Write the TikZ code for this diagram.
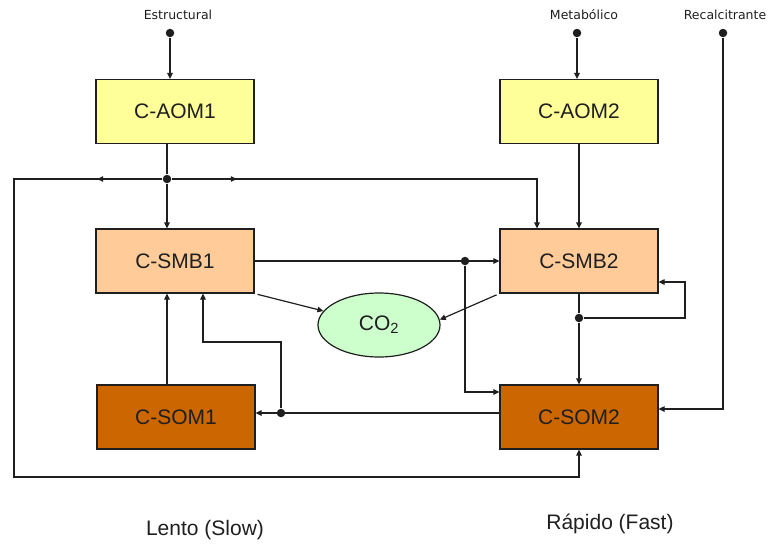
\documentclass[tikz,border=0pt]{standalone}
\usepackage{fontspec}
\setmainfont{Liberation Sans}
\newfontfamily\lblfont{DejaVu Sans}
\usetikzlibrary{arrows.meta,positioning,shapes.geometric,decorations.markings}
\definecolor{aomfill}{HTML}{FFFF99}
\definecolor{smbfill}{HTML}{FFCC99}
\definecolor{somfill}{HTML}{CC6600}
\definecolor{gasfill}{HTML}{CCFFCC}

\begin{document}
\begin{tikzpicture}[x=1pt,y=-1pt,color=black!88,line width=1.2pt,
  box/.style={draw,minimum width=158pt,minimum height=64pt,inner sep=0pt,font=\fontsize{21}{25}\selectfont},
  aom/.style={box,fill=aomfill},
  smb/.style={box,fill=smbfill},
  som/.style={box,fill=somfill},
  gas/.style={ellipse,draw,fill=gasfill,minimum width=122pt,minimum height=64pt,inner sep=0pt,font=\fontsize{21}{25}\selectfont},
  big/.style={font=\fontsize{21}{25}\selectfont},
  lbl/.style={font=\lblfont\fontsize{12.5}{15}\selectfont},
  dot/.style={circle,fill,inner sep=0pt,minimum size=8.5pt},
  midtip/.style={postaction={decorate},decoration={markings,mark=at position #1 with {\arrow{Triangle[length=6pt,width=5.5pt]}}}},
  >={Triangle[length=6pt,width=5.5pt]}]
\useasboundingbox (0,0) rectangle (771,544);
\node[aom] (aom1) at (175,111.5) {C-AOM1};
\node[aom] (aom2) at (579,111.5) {C-AOM2};
\node[smb] (smb1) at (175,261) {C-SMB1};
\node[smb] (smb2) at (579,261) {C-SMB2};
\node[som] (som1) at (176,417) {C-SOM1};
\node[som] (som2) at (579,417) {C-SOM2};
\node[gas] (co2) at (379,325) {CO\textsubscript{2}};
\node[lbl] (estr) at (178,15) {Estructural};
\node[lbl] (meta) at (584,15) {Metabólico};
\node[lbl] (recal) at (725,15) {Recalcitrante};
\node[big] (slow) at (205,530) {Lento (Slow)};
\node[big] (fast) at (610,524) {Rápido (Fast)};
\node[dot] (d1) at (170,33) {};
\node[dot] (d2) at (577,33) {};
\node[dot] (d3) at (723,33) {};
\node[dot] (j1) at (167,179) {};
\node[dot] (j2) at (465,261) {};
\node[dot] (j3) at (579,318) {};
\node[dot] (j4) at (281,413) {};
\coordinate (lt) at (14,179);
\coordinate (lb) at (14,477);
\coordinate (rt) at (537,179);
\coordinate (rr) at (685,318);
\coordinate (kk) at (203,342);
\draw[->] (d1) -- (d1 |- aom1.north);
\draw[->] (d2) -- (d2 |- aom2.north);
\draw[->] (d3) |- ([yshift=8pt]som2.east);
\draw (aom1.south -| j1) -- (j1);
\draw[->] (j1) -- (j1 |- smb1.north);
\draw[->,midtip=65pt] (j1) -- (lt) -- (lb) -| (som2.south);
\draw[->,midtip=65pt] (j1) -- (rt) -- (rt |- smb2.north);
\draw[->] (aom2) -- (smb2);
\draw[->] (smb1) -- (smb2);
\draw[->] (j2) |- ([yshift=25pt]som2.west);
\draw[->,shorten <=3pt] (smb1.south east) -- (co2);
\draw[->,shorten <=3pt] (smb2.south west) -- (co2.5);
\draw (smb2) -- (j3);
\draw[->] (j3) -- (som2);
\draw[->] (j3) -- (rr) |- ([yshift=-21pt]smb2.east);
\draw[->] (som1.north -| j1) -- (smb1.south -| j1);
\draw[->] (som2.west |- j4) -- (som1.east |- j4);
\draw[->] (j4) |- (kk) -- (kk |- smb1.south);
\end{tikzpicture}
\end{document}
